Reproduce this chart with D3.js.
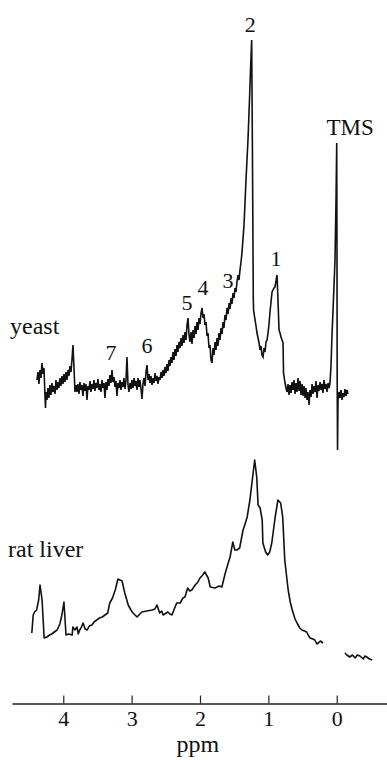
<!DOCTYPE html>
<html>
<head>
<meta charset="utf-8">
<script src="https://cdn.jsdelivr.net/npm/d3@7"></script>
<style>
  html, body { margin: 0; padding: 0; background: #fff; }
  svg { display: block; }
</style>
</head>
<body>
<svg id="chart" width="387" height="760"></svg>
<script>
// Chemical shift (ppm) vs. signal intensity (arbitrary units), yeast spectrum
const yeastSpectrum = [
  [4.385,5],[4.370,7],[4.356,4],[4.341,7.5],[4.326,5.5],[4.312,9.25],[4.297,6.5],[4.282,8],
  [4.268,1.25],[4.260,-2],[4.253,2],[4.238,0],[4.224,3],[4.209,0.5],[4.195,3.75],[4.180,1.25],
  [4.165,4.25],[4.151,2],[4.136,3.5],[4.121,1.5],[4.107,5],[4.092,2.5],[4.078,4.5],[4.063,3],
  [4.048,5.5],[4.034,3.5],[4.019,6],[4.004,4],[3.990,6.5],[3.975,4.5],[3.961,7],[3.946,5],
  [3.931,7.5],[3.917,6],[3.902,8.5],[3.887,7],[3.873,10],[3.858,13.75],[3.843,8],[3.829,2],
  [3.814,3.75],[3.800,2],[3.785,4],[3.770,1.5],[3.756,4.5],[3.741,2.5],[3.726,3.75],[3.712,1],
  [3.697,4.25],[3.683,2.25],[3.668,4],[3.653,0],[3.639,3.5],[3.624,2.5],[3.609,4.75],[3.595,2],
  [3.580,4],[3.565,2.75],[3.551,5],[3.536,2.25],[3.522,4.25],[3.507,3],[3.492,5.25],[3.478,2.5],
  [3.463,4],[3.448,2],[3.434,5],[3.419,3],[3.404,4.25],[3.390,0.5],[3.375,4.5],[3.361,2.5],
  [3.346,5.25],[3.331,3.5],[3.317,6.25],[3.302,4.25],[3.287,7.5],[3.273,4.5],[3.258,5.75],
  [3.243,3.25],[3.229,4.75],[3.214,1],[3.200,4.25],[3.185,3],[3.170,5],[3.156,2.5],[3.141,4.5],
  [3.126,3.25],[3.112,5.5],[3.097,2.75],[3.082,5],[3.068,10.75],[3.053,3.75],[3.039,2],
  [3.024,4.25],[3.009,2.75],[2.995,5],[2.980,3],[2.965,5.5],[2.951,3.5],[2.936,4.75],[2.921,2.5],
  [2.907,5.5],[2.892,3.25],[2.878,5],[2.863,2.75],[2.848,0.25],[2.834,4],[2.819,5.5],[2.804,3.5],
  [2.790,7],[2.775,8.75],[2.760,5],[2.746,6.5],[2.731,4.25],[2.717,6],[2.702,3.75],[2.687,5.5],
  [2.673,4.25],[2.658,6.75],[2.643,4.75],[2.629,6],[2.614,4],[2.600,5.75],[2.585,5],
  [2.570,7],[2.556,5.5],[2.541,7.5],[2.526,6],[2.512,8.25],[2.497,6.75],[2.483,9],[2.468,7.25],
  [2.453,10],[2.439,8.5],[2.424,10.75],[2.409,9.25],[2.395,12],[2.380,10],[2.366,12.75],
  [2.351,11],[2.336,13.75],[2.322,12],[2.307,14.5],[2.292,13],[2.278,15.5],[2.263,13.5],
  [2.248,16.25],[2.234,14.25],[2.219,17],[2.205,15],[2.190,18.75],[2.175,20.5],[2.161,16.25],
  [2.146,14.5],[2.131,17],[2.117,14],[2.102,17.5],[2.087,15.5],[2.073,18.5],[2.058,16.5],
  [2.044,19.5],[2.029,17.5],[2.014,20.5],[2.000,19],[1.985,21.75],[1.970,23],[1.956,20.5],
  [1.941,21.5],[1.927,18.75],[1.912,19.5],[1.897,16],[1.883,16.75],[1.868,13],[1.854,13.75],
  [1.839,10],[1.824,9.25],[1.810,13],[1.795,11.25],[1.780,14.5],[1.766,12.5],[1.751,15.5],
  [1.737,13.5],[1.722,16.75],[1.707,15],[1.693,18],[1.678,16.5],[1.663,19.5],[1.649,18],
  [1.634,21.25],[1.619,20],[1.605,23],[1.590,21.5],[1.575,24.25],[1.561,22.75],[1.546,25.5],
  [1.532,24],[1.517,26.75],[1.502,25.5],[1.488,28],[1.473,27],[1.459,29.5],[1.444,31.25],
  [1.429,30],[1.415,32.5],[1.400,34.5],[1.385,37],
  [1.356,43.75],[1.327,55],[1.298,65],[1.276,75],[1.261,82.5],[1.244,90],[1.239,77.5],
  [1.233,62.5],[1.227,45],[1.224,35],[1.220,25],[1.216,22.5],
  [1.195,20],[1.180,18.5],[1.166,16.75],[1.151,15.5],[1.136,14.25],[1.122,12.5],[1.107,13.5],
  [1.093,11.25],[1.078,10.75],[1.063,13],[1.049,12],[1.034,14.5],[1.019,15],[1.005,16.75],
  [0.990,19],[0.976,22],[0.961,24.5],[0.946,27],[0.932,27.5],[0.917,28],[0.903,28.25],
  [0.888,29.75],[0.873,31.25],[0.859,25],[0.844,17.5],[0.829,16.75],[0.815,15.75],[0.800,15],
  [0.785,14.25],[0.778,6.75],[0.756,4.25],[0.742,3],
  [0.727,2],[0.712,4],[0.698,1.25],[0.683,3.75],[0.668,1.75],[0.654,4.5],[0.639,2.5],[0.624,5],
  [0.610,1.5],[0.595,4.25],[0.581,2],[0.566,5.5],[0.551,2.25],[0.537,4.75],[0.522,1.25],
  [0.507,4],[0.493,1],[0.478,3.5],[0.463,0.5],[0.449,3],[0.434,0],[0.420,2],[0.405,-1.25],
  [0.391,2.5],[0.376,0.75],[0.361,4],[0.347,1.5],[0.332,3.5],[0.317,2],[0.303,4.75],[0.288,0.5],
  [0.273,3.75],[0.259,2.25],[0.244,4.5],[0.229,2.5],[0.215,4],[0.200,1.75],[0.186,5],
  [0.171,2.75],[0.156,4],[0.142,2],[0.127,4.25],[0.112,3],[0.098,4.25],
  [0.083,8.75],[0.069,16.25],[0.054,22.5],[0.039,28.75],[0.025,35],[0.010,50],[0.000,64.25],
  [-0.004,37.5],[-0.007,5],[-0.012,-12.5],[-0.019,0],[-0.034,2],[-0.048,0.5],[-0.063,2.5],
  [-0.078,0],[-0.092,1.75],[-0.107,0.75],[-0.121,2.75],[-0.136,1],[-0.151,2.5],[-0.165,1.5]
];

// Rat liver spectrum (main trace and the short segment past TMS)
const ratLiverSpectrum = [
  [4.46,6.75],[4.44,11.25],[4.42,12],[4.39,12.5],[4.36,15],[4.34,18.75],[4.31,15],[4.28,5.5],
  [4.24,5.75],[4.20,6.25],[4.17,6.5],[4.13,7],[4.09,7.5],[4.05,9],[4.02,11.25],[3.99,14.5],
  [3.96,6.25],[3.92,6.5],[3.87,6.25],[3.86,8.25],[3.83,7.5],[3.80,8.25],[3.78,6.5],[3.76,7.5],
  [3.74,8],[3.71,9.25],[3.68,7.75],[3.65,7.5],[3.62,8.5],[3.58,8.75],[3.55,9.5],[3.51,10],
  [3.47,10.5],[3.43,10.75],[3.39,11.25],[3.35,11.75],[3.32,14.25],[3.28,15.5],[3.24,17.5],
  [3.20,20.25],[3.17,20],[3.14,19.75],[3.10,16.75],[3.05,13.75],[3.01,12.5],[2.98,11.75],
  [2.92,10.75],[2.88,11.5],[2.85,12],[2.78,12.25],[2.70,12.5],[2.66,12.75],[2.63,13.75],
  [2.59,11.75],[2.56,12.25],[2.54,11.25],[2.47,12],[2.44,11.5],[2.41,11.25],[2.37,13],
  [2.34,14.25],[2.29,14.25],[2.25,15.5],[2.22,15.75],[2.18,18],[2.15,17.25],[2.12,17.5],
  [2.07,18.75],[2.03,19.5],[2.00,20.5],[1.96,21.25],[1.93,22],[1.88,20.5],[1.85,18.25],
  [1.78,18],[1.72,18.5],[1.68,18.25],[1.63,21.75],[1.60,23.5],[1.56,25.75],[1.52,29.5],
  [1.49,27.5],[1.46,27.5],[1.42,28],[1.37,32.5],[1.34,34],[1.31,35.75],[1.27,40],[1.23,45.75],
  [1.20,50],[1.17,45.75],[1.15,38.75],[1.12,38],[1.09,35],[1.08,29.25],[1.04,27],[1.01,26.25],
  [0.98,27],[0.95,29.25],[0.90,35.75],[0.86,40],[0.82,39.25],[0.79,35.75],[0.76,25],
  [0.71,17.5],[0.68,14.5],[0.65,12.5],[0.61,10.25],[0.58,9.25],[0.54,8],[0.51,7.5],[0.47,7.25],
  [0.44,7],[0.41,6],[0.39,5.5],[0.35,5.25],[0.32,5],[0.29,4],[0.27,4.25],[0.24,4.75],
  [0.22,4.5],[0.20,4.25]
];
const ratLiverTail = [
  [-0.12,1.75],[-0.15,1.25],[-0.19,0.75],[-0.23,1.25],[-0.27,0.5],[-0.30,1.25],[-0.34,1],
  [-0.39,0.25],[-0.41,1],[-0.44,0.75],[-0.48,0.25],[-0.52,0]
];

// Peak assignments on the yeast trace: label, shift, height
const peakLabels = ["2", "TMS", "1", "3", "4", "5", "6", "7"];
const peakLabelPpm = [1.265, -0.195, 0.888, 1.590, 1.956, 2.190, 2.775, 3.302];
const peakLabelLevel = [92, 66.25, 33.5, 28, 26.25, 22.5, 11.75, 10];

const sampleNames = ["yeast", "rat liver"];
const axisTicks = [4, 3, 2, 1, 0];
const axisTitle = "ppm";

const serif = "'Liberation Serif', 'Times New Roman', Times, serif";
const ink = "#111";

const svg = d3.select("#chart");

// Shift axis runs right to left (downfield on the left)
const x = d3.scaleLinear().domain([4.75, -0.74]).range([12, 387.3]);
const yYeast = d3.scaleLinear().domain([0, 90]).range([400, 40]);
const yRat = d3.scaleLinear().domain([0, 50]).range([660, 460]);

const yeastLine = d3.line().x(d => x(d[0])).y(d => yYeast(d[1]));
const ratLine = d3.line().x(d => x(d[0])).y(d => yRat(d[1]));

svg.append("path")
  .datum(yeastSpectrum)
  .attr("d", yeastLine)
  .attr("fill", "none")
  .attr("stroke", ink)
  .attr("stroke-width", 1.6)
  .attr("stroke-linejoin", "miter");

[ratLiverSpectrum, ratLiverTail].forEach(seg => {
  svg.append("path")
    .datum(seg)
    .attr("d", ratLine)
    .attr("fill", "none")
    .attr("stroke", ink)
    .attr("stroke-width", 1.6)
    .attr("stroke-linejoin", "round");
});

// Peak labels
svg.append("g").selectAll("text")
  .data(peakLabels)
  .join("text")
  .attr("x", (d, i) => x(peakLabelPpm[i]))
  .attr("y", (d, i) => yYeast(peakLabelLevel[i]))
  .attr("text-anchor", "middle")
  .attr("font-family", serif)
  .attr("font-size", d => d === "TMS" ? 23 : 22)
  .attr("fill", ink)
  .text(d => d);

// Sample names
svg.append("text")
  .attr("x", 10).attr("y", 334)
  .attr("font-family", serif)
  .attr("font-size", 24)
  .attr("fill", ink)
  .text(sampleNames[0]);
svg.append("text")
  .attr("x", 8).attr("y", 557)
  .attr("font-family", serif)
  .attr("font-size", 24)
  .attr("fill", ink)
  .text(sampleNames[1]);

// Shift axis with ticks pointing up into the plot
const axis = d3.axisBottom(x)
  .tickValues(axisTicks)
  .tickFormat(d3.format("d"))
  .tickSizeInner(-8)
  .tickSizeOuter(0)
  .tickPadding(7);

const gAxis = svg.append("g")
  .attr("transform", "translate(0,703.5)")
  .call(axis)
  .attr("font-family", serif);
gAxis.select(".domain").attr("stroke", "#222").attr("stroke-width", 1.3);
gAxis.selectAll(".tick line").attr("stroke", "#222").attr("stroke-width", 1.2);
gAxis.selectAll(".tick text")
  .attr("font-family", serif)
  .attr("font-size", 22)
  .attr("fill", ink);

svg.append("text")
  .attr("x", x(2.03)).attr("y", 752)
  .attr("text-anchor", "middle")
  .attr("font-family", serif)
  .attr("font-size", 24)
  .attr("fill", ink)
  .text(axisTitle);
</script>
</body>
</html>
